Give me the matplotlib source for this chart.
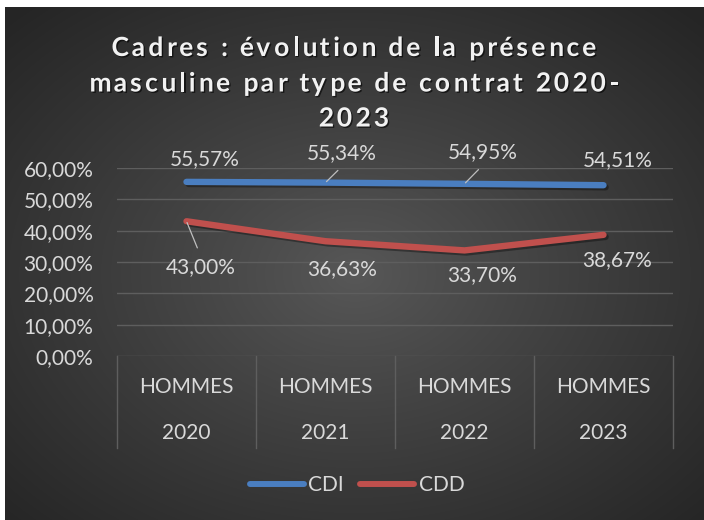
import numpy as np
import matplotlib
matplotlib.use("Agg")
import matplotlib.pyplot as plt
import matplotlib.patheffects as pe
from matplotlib.lines import Line2D
from matplotlib.transforms import blended_transform_factory
from matplotlib.font_manager import FontProperties, findfont, get_font

# data
categories = ["2020", "2021", "2022", "2023"]
group_label = "HOMMES"
cdi = [55.57, 55.34, 54.95, 54.51]
cdd = [43.00, 36.63, 33.70, 38.67]
series_names = ["CDI", "CDD"]
yticks = [0, 10, 20, 30, 40, 50, 60]
title_lines = ["Cadres : évolution de la présence",
               "masculine par type de contrat 2020-",
               "2023"]

BLUE = "#4a7ec0"
RED = "#c0504d"
TXT = "#d9d9d9"
GRID = "#5e5e5e"
DPI = 100

plt.rcParams["font.family"] = ["Lato", "DejaVu Sans"]

fig = plt.figure(figsize=(7.04, 5.20), dpi=DPI)
fig.patch.set_facecolor("white")

# radial gradient background (chart area)
bg = fig.add_axes([5 / 704, 0, 1 - 5 / 704, 1 - 7 / 520])
bg.set_axis_off()
h, w = 513, 699
yy, xx = np.mgrid[0:h, 0:w]
r = np.sqrt(((xx - w * 0.5) / (w * 0.5)) ** 2 + ((yy - h * 0.52) / (h * 0.5)) ** 2) / np.sqrt(2)
r = np.clip(r, 0, 1)
c0, c1 = 0x58 / 255, 0x25 / 255
val = c0 + (c1 - c0) * r ** 0.9
img = np.dstack([val, val, val])
bg.imshow(img, aspect="auto", extent=[0, 1, 0, 1], interpolation="bilinear")
bg.set_xlim(0, 1)
bg.set_ylim(0, 1)

ax = fig.add_axes([117 / 704, 1 - 356 / 520, 556 / 704, 188 / 520])
ax.set_facecolor("none")
x = np.arange(len(categories))

shadow = [pe.SimpleLineShadow(offset=(1.5, -1.5), shadow_color="black", alpha=0.35), pe.Normal()]
ax.plot(x, cdi, color=BLUE, lw=4.6, solid_capstyle="round", solid_joinstyle="round",
        path_effects=shadow, zorder=3)
ax.plot(x, cdd, color=RED, lw=4.6, solid_capstyle="round", solid_joinstyle="round",
        path_effects=shadow, zorder=3)

ax.set_xlim(-0.5, len(categories) - 0.5)
ax.set_ylim(0, 60)
ax.set_yticks(yticks)
ax.set_yticklabels([f"{v:.2f}%".replace(".", ",") for v in yticks])
ax.set_xticks([])
ax.tick_params(axis="y", length=0, pad=17, labelsize=15, labelcolor=TXT)
for s in ax.spines.values():
    s.set_visible(False)
for v in yticks:
    ax.axhline(v, color=GRID, lw=1.0, zorder=1)

# multi-level category axis
trans = blended_transform_factory(ax.transData, ax.transAxes)
for b in np.arange(len(categories) + 1) - 0.5:
    ax.plot([b, b], [0, -0.489], color=GRID, lw=1.0, transform=trans, clip_on=False)
for i, c in enumerate(categories):
    ax.text(i, -0.163, group_label, transform=trans, ha="center", va="center",
            fontsize=15, color=TXT)
    ax.text(i, -0.408, c, transform=trans, ha="center", va="center",
            fontsize=15, color=TXT)

# data labels
fmt = lambda v: f"{v:.2f}%".replace(".", ",")
cdi_off = [(13, 16.5), (12, 21.5), (13, 23), (10, 18)]
cdd_off = [(10.5, -33), (12, -20), (13, -17.5), (10, -18)]
cdi_lead = [False, True, True, False]
cdd_lead = [True, False, False, False]
for vals, offs, leads, rel in [(cdi, cdi_off, cdi_lead, (0.55, 0.0)),
                               (cdd, cdd_off, cdd_lead, (0.5, 1.0))]:
    for i, v in enumerate(vals):
        kw = {}
        if leads[i]:
            kw["arrowprops"] = dict(arrowstyle="-", color="#bfbfbf", lw=0.9,
                                    shrinkA=5, shrinkB=1, relpos=rel)
        ax.annotate(fmt(v), (i, v), xytext=offs[i], textcoords="offset points",
                    ha="center", va="center", fontsize=15, color=TXT, zorder=4, **kw)

# title, drawn char by char to get the wide letter spacing
tsize = 19
tprop = FontProperties(family="Lato", weight="bold", size=tsize)
tfont = get_font(findfont(tprop))
tfont.set_size(tsize, DPI)


def advances(s):
    return [tfont.load_char(ord(ch)).linearHoriAdvance / 65536 for ch in s]


target_w = 485
adv1 = advances(title_lines[0])
spacing = (target_w - sum(adv1)) / (len(title_lines[0]) - 1)
ys = [46.0, 81.5, 116.5]
cx = 353
tshadow = [pe.withSimplePatchShadow(offset=(1, -1), shadow_rgbFace="black", alpha=0.6)]
for line, yp in zip(title_lines, ys):
    adv = advances(line)
    total = sum(adv) + spacing * (len(line) - 1)
    pen = cx - total / 2
    for ch, a in zip(line, adv):
        if ch != " ":
            lsb = tfont.load_char(ord(ch)).horiBearingX / 64
            fig.text((pen + lsb) / 704, 1 - yp / 520, ch, ha="left", va="center_baseline",
                     fontproperties=tprop, color="#f2f2f2", path_effects=tshadow)
        pen += a + spacing

# legend
handles = [Line2D([], [], color=BLUE, lw=4.3, solid_capstyle="round"),
           Line2D([], [], color=RED, lw=4.3, solid_capstyle="round")]
fig.legend(handles, series_names, loc="center", bbox_to_anchor=(357 / 704, 1 - 485 / 520),
           ncol=2, frameon=False, fontsize=15, labelcolor=TXT, handlelength=2.6,
           handletextpad=0.2, columnspacing=0.8)

fig.savefig("out.png", dpi=DPI)
